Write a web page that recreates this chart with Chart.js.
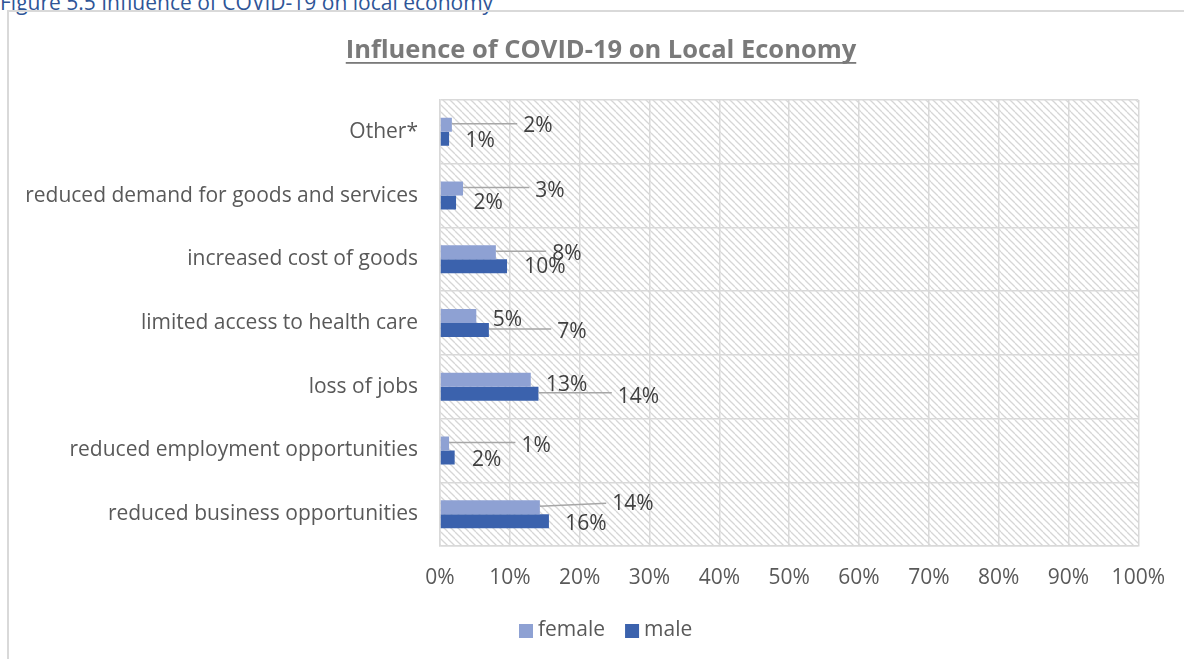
<!DOCTYPE html>
<html>
<head>
<meta charset="utf-8">
<script src="https://cdn.jsdelivr.net/npm/chart.js@4"></script>
<style>
  body { margin: 0; background: #fff; overflow: hidden; }
  #caption {
    position: absolute; left: 0; top: -12px; line-height: 20px;
    font: 21px "Open Sans", sans-serif; color: #2e5597; white-space: nowrap;
  }
  #frame {
    position: absolute; left: 7px; top: 10px; width: 1200px; height: 700px;
    border: 2px solid #d9d9d9;
  }
  #chart { position: absolute; left: 0; top: 0; }
</style>
</head>
<body>
<div id="caption">Figure 5.5 Influence of COVID-19 on local economy</div>
<div id="frame"></div>
<canvas id="chart" width="1184" height="659"></canvas>
<script>
"use strict";

const categories = [
  "Other*",
  "reduced demand for goods and services",
  "increased cost of goods",
  "limited access to health care",
  "loss of jobs",
  "reduced employment opportunities",
  "reduced business opportunities",
];
const female = [1.7, 3.3, 8.0, 5.2, 13.0, 1.3, 14.3];
const male = [1.3, 2.3, 9.6, 7.0, 14.1, 2.1, 15.6];
const xTicks = [0, 10, 20, 30, 40, 50, 60, 70, 80, 90, 100];

// where each data label sits, relative to the end of its bar (Excel moved some by hand)
const femaleLabelShift = [[86, 1], [87, 2], [71, 2], [31, 4], [36, 5], [87, 3], [93, -3]];
const maleLabelShift = [[31, 2], [32, 0], [38, 1], [83, 2], [100, 3], [32, 3], [37, 3]];

const FONT = "'Open Sans', Lato, sans-serif";

function hatchPattern(ctx) {
  const s = 7;
  const tile = document.createElement("canvas");
  tile.width = s;
  tile.height = s;
  const t = tile.getContext("2d");
  t.fillStyle = "#ffffff";
  t.fillRect(0, 0, s, s);
  t.strokeStyle = "#d6d6d6";
  t.lineWidth = 1.3;
  for (let k = -1; k <= 1; k++) {
    t.beginPath();
    t.moveTo(0, k * s);
    t.lineTo(s, s + k * s);
    t.stroke();
  }
  return ctx.createPattern(tile, "repeat");
}

const backdrop = {
  id: "backdrop",
  beforeDraw(chart) {
    const { ctx, chartArea: a } = chart;
    ctx.save();
    ctx.fillStyle = hatchPattern(ctx);
    ctx.fillRect(a.left, a.top, a.right - a.left, a.bottom - a.top);
    ctx.restore();
  },
};

const titleAndLegend = {
  id: "titleAndLegend",
  afterDraw(chart) {
    const ctx = chart.ctx;
    ctx.save();
    // title, underlined
    const title = "Influence of COVID-19 on Local Economy";
    ctx.font = "bold 25.5px " + FONT;
    ctx.fillStyle = "#7a7a7a";
    ctx.textAlign = "left";
    ctx.textBaseline = "alphabetic";
    const w = ctx.measureText(title).width;
    const tx = 601 - w / 2;
    ctx.fillText(title, tx, 58);
    ctx.fillRect(tx, 62, w, 1.8);

    // legend
    ctx.font = "21px " + FONT;
    ctx.textBaseline = "middle";
    let x = 519;
    chart.data.datasets.forEach((ds) => {
      ctx.fillStyle = ds.backgroundColor;
      ctx.fillRect(x, 624, 14, 14);
      ctx.fillStyle = "#595959";
      ctx.fillText(ds.label, x + 19, 630);
      x += 19 + ctx.measureText(ds.label).width + 20;
    });
    ctx.restore();
  },
};

const dataLabels = {
  id: "dataLabels",
  afterDatasetsDraw(chart) {
    const ctx = chart.ctx;
    const shifts = [femaleLabelShift, maleLabelShift];
    ctx.save();
    ctx.font = "21px " + FONT;
    ctx.textAlign = "center";
    ctx.textBaseline = "middle";
    chart.data.datasets.forEach((ds, di) => {
      chart.getDatasetMeta(di).data.forEach((bar, i) => {
        const [dx, dy] = shifts[di][i];
        const text = Math.round(ds.data[i]) + "%";
        const lx = bar.x + dx;
        const ly = bar.y + dy;
        const half = ctx.measureText(text).width / 2;
        if (dx > 60) {
          ctx.strokeStyle = "#a6a6a6";
          ctx.lineWidth = 1.5;
          ctx.beginPath();
          ctx.moveTo(bar.x, bar.y - 1);
          ctx.lineTo(lx - half - 6, bar.y - 1 + Math.min(0, dy));
          ctx.stroke();
        }
        ctx.fillStyle = "#404040";
        ctx.fillText(text, lx, ly);
      });
    });
    ctx.restore();
  },
};

new Chart(document.getElementById("chart"), {
  type: "bar",
  data: {
    labels: categories,
    datasets: [
      { label: "female", data: female, backgroundColor: "#8ea1d3" },
      { label: "male", data: male, backgroundColor: "#3b62ad" },
    ],
  },
  options: {
    indexAxis: "y",
    responsive: false,
    animation: false,
    categoryPercentage: 0.44,
    barPercentage: 1,
    layout: { padding: { left: 20, right: 45, top: 100, bottom: 63 } },
    plugins: {
      legend: { display: false },
      title: { display: false },
      tooltip: { enabled: false },
    },
    scales: {
      x: {
        min: 0,
        max: 100,
        afterBuildTicks: (scale) => {
          scale.ticks = xTicks.map((v) => ({ value: v }));
        },
        afterFit: (scale) => {
          scale.height = 50;
        },
        ticks: {
          callback: (v) => v + "%",
          color: "#595959",
          font: { family: FONT, size: 21 },
          padding: 19,
          maxRotation: 0,
        },
        grid: { color: "#d9d9d9", lineWidth: 1.5, drawTicks: false },
        border: { color: "#d9d9d9", width: 1.5 },
      },
      y: {
        afterFit: (scale) => {
          scale.width = 420;
        },
        ticks: {
          color: "#595959",
          font: { family: FONT, size: 21 },
          padding: 22,
        },
        grid: { color: "#d9d9d9", lineWidth: 1.5, drawTicks: false, offset: true },
        border: { color: "#d9d9d9", width: 1.5 },
      },
    },
  },
  plugins: [backdrop, dataLabels, titleAndLegend],
});
</script>
</body>
</html>
